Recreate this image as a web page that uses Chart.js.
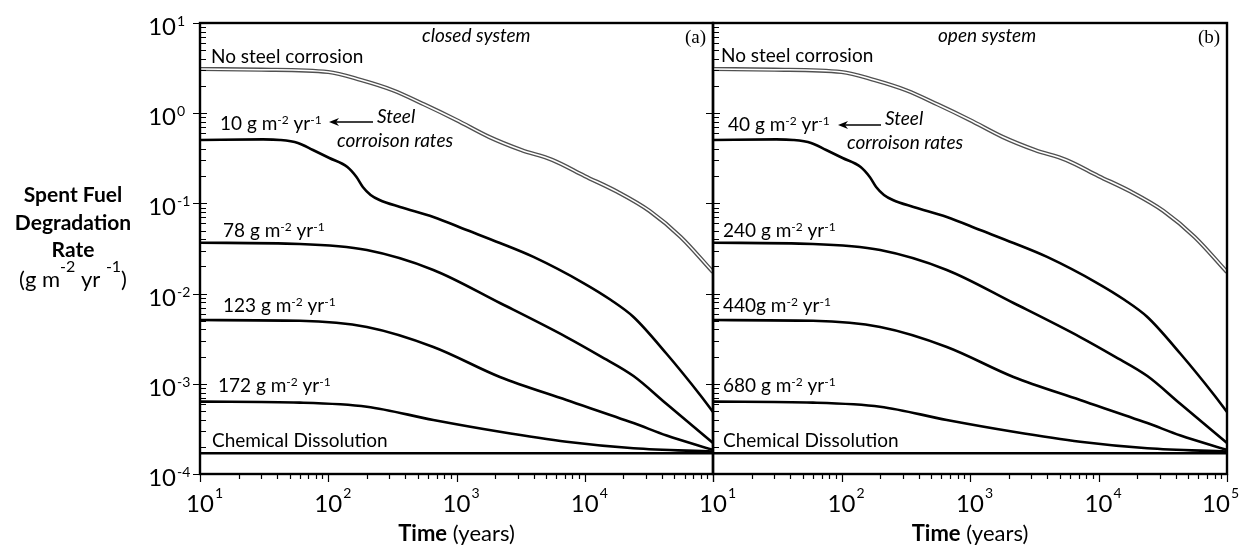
<!DOCTYPE html>
<html><head><meta charset="utf-8">
<script src="https://cdn.jsdelivr.net/npm/chart.js@4.4.1/dist/chart.umd.min.js"></script>
<style>
html,body{margin:0;padding:0;background:#fff;}
#wrap{position:relative;width:1242px;height:546px;overflow:hidden;background:#fff;}
canvas{position:absolute;left:0;top:0;}
</style></head><body>
<div id="wrap"><canvas id="cA" width="1242" height="546"></canvas><canvas id="cB" width="1242" height="546"></canvas></div>
<script>
// ---------------- DATA ----------------
const noSteelTimes = [10, 30, 100, 180, 320, 560, 1000, 1800, 3200, 5600, 10000, 18000, 32000, 56000, 100000];
const noSteelRates = [3.09, 3.04, 2.86, 2.33, 1.79, 1.25, 0.84, 0.545, 0.391, 0.303, 0.201, 0.134, 0.0824, 0.0424, 0.0173];

const steel1Times = [10, 31, 42, 58, 76, 102, 141, 166, 186, 214, 251, 363, 660, 1200, 2180, 3980, 9770, 16000, 24000, 43600, 79400, 100000];
const steel1Rates = [0.505, 0.512, 0.505, 0.468, 0.391, 0.319, 0.253, 0.196, 0.152, 0.124, 0.109, 0.0912, 0.0707, 0.0507, 0.0364, 0.0255, 0.0131, 0.00849, 0.00551, 0.00214, 0.000752, 0.000487];

const steel2Times = [10, 60, 200, 660, 2180, 7200, 13200, 24000, 43500, 100000];
const steel2Rates = [0.0366, 0.0355, 0.0304, 0.0183, 0.00787, 0.0033, 0.00203, 0.00122, 0.000597, 0.000221];

const steel3Times = [10, 60, 200, 660, 2180, 7200, 24000, 43500, 100000];
const steel3Rates = [0.00509, 0.00500, 0.00426, 0.00256, 0.00119, 0.000661, 0.000367, 0.000267, 0.000185];

const steel4Times = [10, 60, 200, 660, 2180, 7200, 24000, 100000];
const steel4Rates = [0.000634, 0.000618, 0.000557, 0.000397, 0.000294, 0.000228, 0.000193, 0.000177];

const chemTimes = [10, 100000];
const chemRates = [0.00017, 0.00017];

// tick labels
const xTickValues = [10, 100, 1000, 10000, 100000];
const xTickExpsLeft = ['1', '2', '3', '4', ''];
const xTickExpsRight = ['1', '2', '3', '4', '5'];
const yTickValues = [10, 1, 0.1, 0.01, 0.001, 0.0001];
const yTickExps = ['1', '0', '-1', '-2', '-3', '-4'];

// text labels
const closedRateLabels = ['10 g m^{-2} yr^{-1}', '78 g m^{-2} yr^{-1}', '123 g m^{-2} yr^{-1}', '172 g m^{-2} yr^{-1}'];
const openRateLabels = ['40 g m^{-2} yr^{-1}', '240 g m^{-2} yr^{-1}', '440g m^{-2} yr^{-1}', '680 g m^{-2} yr^{-1}'];
const yTitleLines = ['Spent Fuel', 'Degradation', 'Rate'];
const yTitleUnits = '(g m^{-2} yr ^{-1})';

// ---------------- helpers ----------------
const FAM = 'Lato, "Open Sans", sans-serif';
function pts(t, r) { return t.map((x, i) => ({x: x, y: r[i]})); }
function richParts(s) {
  const out = []; const re = /\^\{([^}]*)\}/g; let last = 0, m;
  while ((m = re.exec(s))) {
    if (m.index > last) out.push({t: s.slice(last, m.index), sup: false});
    out.push({t: m[1], sup: true}); last = re.lastIndex;
  }
  if (last < s.length) out.push({t: s.slice(last), sup: false});
  return out;
}
function drawRich(ctx, s, x, y, o) {
  const parts = richParts(s);
  const fontFor = p => (o.style || 'normal') + ' ' + (o.weight || 'normal') + ' ' + (p.sup ? o.supSize : o.size) + 'px ' + (o.family || FAM);
  let w = 0;
  parts.forEach(p => { ctx.font = fontFor(p); p.w = ctx.measureText(p.t).width; w += p.w; });
  let cx = o.align === 'center' ? x - w / 2 : (o.align === 'right' ? x - w : x);
  ctx.textAlign = 'left'; ctx.textBaseline = 'alphabetic'; ctx.fillStyle = '#000';
  parts.forEach(p => { ctx.font = fontFor(p); ctx.fillText(p.t, cx, p.sup ? y - o.rise : y); cx += p.w; });
}

function makeDatasets() {
  const base = {pointRadius: 0, pointHoverRadius: 0, fill: false, cubicInterpolationMode: 'monotone', borderColor: '#000', borderWidth: 2.6};
  return [
    Object.assign({}, base, {data: pts(noSteelTimes, noSteelRates), borderColor: '#ffffff', borderWidth: 1.5, order: 0}),
    Object.assign({}, base, {data: pts(noSteelTimes, noSteelRates), borderColor: '#505050', borderWidth: 4.2, order: 1}),
    Object.assign({}, base, {data: pts(steel1Times, steel1Rates), order: 2}),
    Object.assign({}, base, {data: pts(steel2Times, steel2Rates), order: 3}),
    Object.assign({}, base, {data: pts(steel3Times, steel3Rates), order: 4}),
    Object.assign({}, base, {data: pts(steel4Times, steel4Rates), order: 5}),
    Object.assign({}, base, {data: pts(chemTimes, chemRates), cubicInterpolationMode: 'default', tension: 0, order: 6})
  ];
}

function framePlugin(panel) {
  return {
    id: 'frame' + panel.name,
    afterDatasetsDraw(chart) {
      const ctx = chart.ctx, a = chart.chartArea, xs = chart.scales.x, ys = chart.scales.y;
      ctx.save();
      ctx.strokeStyle = '#000';
      ctx.lineWidth = 1.2;
      ctx.beginPath();
      yTickValues.forEach(dv => {
        for (let k = 1; k <= 9; k++) {
          const v = dv * k;
          if (v > ys.max * 1.0001 || v < ys.min * 0.9999) continue;
          const py = Math.round(ys.getPixelForValue(v)) + 0.5;
          if (k === 1) { ctx.moveTo(a.left - 7, py); ctx.lineTo(a.left + 7, py); }
          else { ctx.moveTo(a.left, py); ctx.lineTo(a.left + 6, py); }
        }
      });
      xTickValues.forEach(dv => {
        for (let k = 1; k <= 9; k++) {
          const v = dv * k;
          if (v > xs.max * 1.0001 || v < xs.min * 0.9999) continue;
          const px = Math.round(xs.getPixelForValue(v)) + 0.5;
          ctx.moveTo(px, a.bottom);
          ctx.lineTo(px, a.bottom + (k === 1 ? 8 : 5));
        }
      });
      ctx.stroke();
      ctx.lineWidth = 2.4;
      ctx.strokeRect(a.left, a.top, a.right - a.left, a.bottom - a.top);
      ctx.restore();
    },
    afterDraw(chart) {
      const ctx = chart.ctx, a = chart.chartArea, xs = chart.scales.x, ys = chart.scales.y;
      const W = chart.width;
      ctx.save();
      ctx.fillStyle = '#000';
      xTickValues.forEach((v, i) => {
        const e = panel.xExps[i];
        if (!e) return;
        let px = xs.getPixelForValue(v);
        ctx.font = '24px ' + FAM; const bw = ctx.measureText('10').width;
        ctx.font = '14px ' + FAM; const ew = ctx.measureText(e).width;
        px = Math.min(px, W - 3 - ew - 1 - bw / 2);
        ctx.font = '24px ' + FAM; ctx.textAlign = 'center'; ctx.textBaseline = 'alphabetic';
        ctx.fillText('10', px, 512);
        ctx.font = '14px ' + FAM; ctx.textAlign = 'left';
        ctx.fillText(e, px + bw / 2 + 1, 498);
      });
      if (panel.yLabels) {
        yTickValues.forEach((v, i) => {
          const py = ys.getPixelForValue(v);
          ctx.font = '24px ' + FAM; ctx.textAlign = 'right'; ctx.textBaseline = 'alphabetic';
          ctx.fillText('10', 176, py + 12);
          ctx.font = '14px ' + FAM; ctx.textAlign = 'left';
          ctx.fillText(yTickExps[i], 177, py + 3);
        });
        ctx.textAlign = 'center';
        ctx.font = 'bold 21px ' + FAM;
        [202, 230, 257].forEach((by, i) => ctx.fillText(yTitleLines[i], 73, by));
        drawRich(ctx, yTitleUnits, 73, 287, {size: 22, supSize: 16, rise: 15, align: 'center'});
      }
      const cx = (a.left + a.right) / 2;
      ctx.textBaseline = 'alphabetic'; ctx.textAlign = 'left';
      ctx.font = 'bold 22px ' + FAM; const w1 = ctx.measureText('Time').width;
      ctx.font = '22px ' + FAM; const w2 = ctx.measureText(' (years)').width;
      const sx = cx - (w1 + w2) / 2;
      ctx.font = 'bold 22px ' + FAM; ctx.fillText('Time', sx, 541);
      ctx.font = '22px ' + FAM; ctx.fillText(' (years)', sx + w1, 541);
      panel.texts.forEach(t => drawRich(ctx, t.s, t.x, t.y, {size: t.size || 19, supSize: 12, rise: 6, style: t.style, family: t.family}));
      const ar = panel.arrow;
      ctx.strokeStyle = '#000'; ctx.lineWidth = 1.3;
      ctx.beginPath(); ctx.moveTo(ar.x1, ar.y); ctx.lineTo(ar.x0 + 6, ar.y); ctx.stroke();
      ctx.beginPath(); ctx.moveTo(ar.x0, ar.y); ctx.lineTo(ar.x0 + 10, ar.y - 4); ctx.lineTo(ar.x0 + 7, ar.y); ctx.lineTo(ar.x0 + 10, ar.y + 4); ctx.closePath(); ctx.fill();
      ctx.restore();
    }
  };
}

function makeChart(id, padLeft, padRight, panel) {
  return new Chart(document.getElementById(id), {
    type: 'line',
    data: {datasets: makeDatasets()},
    options: {
      responsive: false, animation: false, devicePixelRatio: 1,
      layout: {padding: {left: padLeft, right: padRight, top: 23, bottom: 72}},
      plugins: {legend: {display: false}, tooltip: {enabled: false}, title: {display: false}},
      events: [],
      scales: {
        x: {type: 'logarithmic', min: 10, max: 100000, display: false},
        y: {type: 'logarithmic', min: 0.0001, max: 10, display: false}
      }
    },
    plugins: [framePlugin(panel)]
  });
}

const leftPanel = {
  name: 'A', yLabels: true, xExps: xTickExpsLeft,
  arrow: {x0: 329, x1: 373, y: 122},
  texts: [
    {s: 'No steel corrosion', x: 211, y: 63},
    {s: closedRateLabels[0], x: 220, y: 130},
    {s: closedRateLabels[1], x: 223, y: 237},
    {s: closedRateLabels[2], x: 223, y: 312},
    {s: closedRateLabels[3], x: 218, y: 392},
    {s: 'Chemical Dissolution', x: 212, y: 447},
    {s: 'closed system', x: 422, y: 42, style: 'italic'},
    {s: 'Steel', x: 377, y: 123, style: 'italic'},
    {s: 'corroison rates', x: 337, y: 147, style: 'italic'},
    {s: '(a)', x: 685, y: 43, family: '"Liberation Serif", serif', size: 19}
  ]
};
const rightPanel = {
  name: 'B', yLabels: false, xExps: xTickExpsRight,
  arrow: {x0: 838, x1: 881, y: 125},
  texts: [
    {s: 'No steel corrosion', x: 721, y: 62},
    {s: openRateLabels[0], x: 728, y: 131},
    {s: openRateLabels[1], x: 723, y: 237},
    {s: openRateLabels[2], x: 723, y: 312},
    {s: openRateLabels[3], x: 723, y: 392},
    {s: 'Chemical Dissolution', x: 723, y: 447},
    {s: 'open system', x: 938, y: 42, style: 'italic'},
    {s: 'Steel', x: 885, y: 125, style: 'italic'},
    {s: 'corroison rates', x: 847, y: 149, style: 'italic'},
    {s: '(b)', x: 1198, y: 43, family: '"Liberation Serif", serif', size: 19}
  ]
};

makeChart('cA', 200, 1242 - 713, leftPanel);
makeChart('cB', 713, 1242 - 1227, rightPanel);
</script>
</body></html>
